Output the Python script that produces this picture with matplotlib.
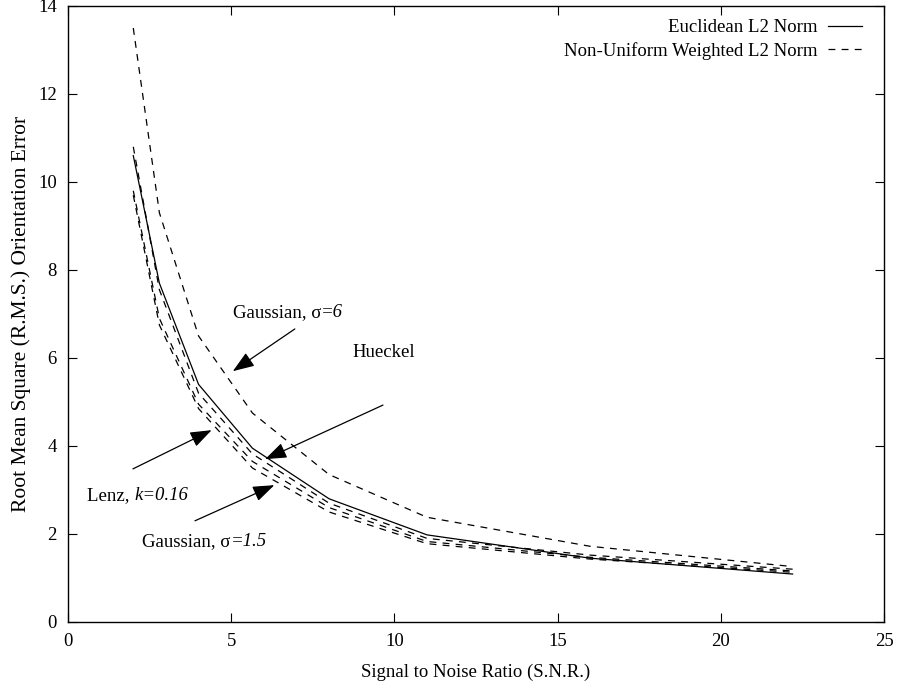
import matplotlib
matplotlib.use("Agg")
import matplotlib.pyplot as plt
from matplotlib.transforms import ScaledTranslation

plt.rcParams['font.family'] = ['Liberation Serif', 'DejaVu Serif']
plt.rcParams['font.size'] = 13.5

# Data
snr = [2, 2.8, 4, 5.65, 8, 11, 16, 22.2]
gauss6 = [13.5, 9.3, 6.5, 4.75, 3.35, 2.38, 1.72, 1.26]
euclid = [10.6, 7.7, 5.4, 3.95, 2.8, 1.98, 1.45, 1.09]
weighted_b = [10.8, 7.55, 5.2, 3.82, 2.7, 1.9, 1.52, 1.2]
weighted_c = [9.8, 6.9, 4.95, 3.65, 2.6, 1.83, 1.47, 1.16]
weighted_d = [9.7, 6.75, 4.85, 3.5, 2.5, 1.78, 1.43, 1.13]

xticks = [0, 5, 10, 15, 20, 25]
yticks = [0, 2, 4, 6, 8, 10, 12, 14]

fig = plt.figure(figsize=(8.98, 6.96), dpi=100)
ax = fig.add_axes([68/898, 74/696, (884-68)/898, (622-6)/696])

dash = (0, (5.5, 5))
lw = 0.9
ax.plot(snr, euclid, color='black', lw=lw, label='Euclidean L2 Norm')
ax.plot(snr, gauss6, color='black', lw=lw, linestyle=dash, label='Non-Uniform Weighted L2 Norm')
ax.plot(snr, weighted_b, color='black', lw=lw, linestyle=dash)
ax.plot(snr, weighted_c, color='black', lw=lw, linestyle=dash)
ax.plot(snr, weighted_d, color='black', lw=lw, linestyle=dash)

ax.set_xlim(0, 25)
ax.set_ylim(0, 14)
ax.set_xticks(xticks)
ax.set_yticks(yticks)
ax.tick_params(direction='in', length=6.5, width=0.8, top=True, right=True, pad=8)
for s in ax.spines.values():
    s.set_linewidth(1.0)

ax.set_xlabel('Signal to Noise Ratio (S.N.R.)', labelpad=10)
ax.set_ylabel('Root Mean Square (R.M.S.) Orientation Error', labelpad=5, fontsize=15.5)

leg = ax.legend(loc='upper right', bbox_to_anchor=(0.982, 0.991), borderaxespad=0,
                frameon=False, markerfirst=False,
                handlelength=1.8, handletextpad=0.55, labelspacing=0.32)

arrow = dict(arrowstyle='-|>,head_length=0.6,head_width=0.22', color='black', lw=0.9,
             mutation_scale=22, shrinkA=0, shrinkB=0)
ax.annotate('', xy=(5.05, 5.70), xytext=(6.95, 6.66), arrowprops=arrow)
ax.annotate('', xy=(6.04, 3.70), xytext=(9.65, 4.93), arrowprops=arrow)
ax.annotate('', xy=(4.40, 4.36), xytext=(1.99, 3.48), arrowprops=arrow)
ax.annotate('', xy=(6.32, 3.11), xytext=(3.89, 2.30), arrowprops=arrow)

fig.canvas.draw()
renderer = fig.canvas.get_renderer()

def two_part(x, y, a, b):
    t1 = ax.text(x, y, a, va='baseline', ha='left')
    w = t1.get_window_extent(renderer).width
    ax.text(x, y, b, va='baseline', ha='left', style='italic',
            transform=ax.transData + ScaledTranslation(w / fig.dpi, 0, fig.dpi_scale_trans))

two_part(5.05, 6.93, 'Gaussian, σ', '=6')
ax.text(8.7, 6.02, 'Hueckel', va='baseline', ha='left')
two_part(0.58, 2.77, 'Lenz, ', 'k=0.16')
two_part(2.27, 1.73, 'Gaussian, σ', '=1.5')

fig.savefig('out.png', dpi=100)
